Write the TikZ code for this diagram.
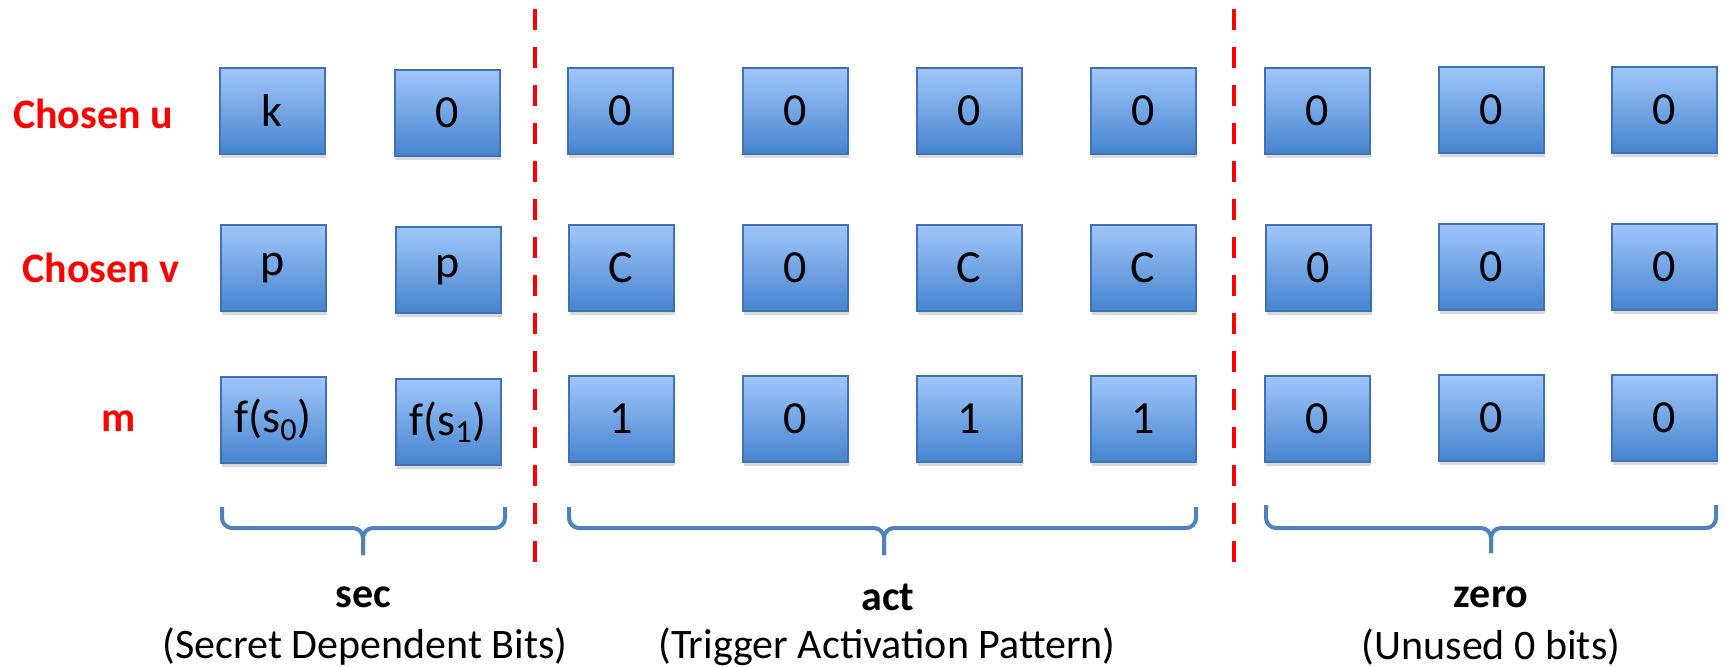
\documentclass[tikz,border=0pt]{standalone}
\usepackage{fontspec}
\setmainfont{Carlito}
\usepackage{xcolor}
\usepackage{tikz}
\usetikzlibrary{shadows}

\definecolor{celltop}{RGB}{160,198,250}
\definecolor{cellbottom}{RGB}{70,132,207}
\definecolor{cellborder}{RGB}{64,113,178}
\definecolor{bracecolor}{RGB}{79,129,189}

\begin{document}
\begin{tikzpicture}[x=0.5pt,y=-0.5pt]
				\tikzstyle{common} = [font=\fontsize{21}{25}\selectfont, inner sep=0pt]
				\tikzstyle{cell} = [rectangle, common, font=\fontsize{23}{27}\selectfont, draw=cellborder, line width=1pt, top color=celltop, bottom color=cellbottom, minimum width=52.5pt, minimum height=43pt, drop shadow={shadow xshift=0.5pt, shadow yshift=-2pt, opacity=0.3}]
				\tikzstyle{rowname} = [common, text=red, font=\fontsize{21}{25}\selectfont\bfseries]
				\tikzstyle{groupname} = [common, font=\fontsize{21}{25}\selectfont\bfseries]
				\tikzstyle{groupnote} = [common]
				\tikzstyle{divider} = [draw=red, line width=2.3pt, dash pattern=on 10.5pt off 8.5pt]
				\tikzstyle{curly} = [draw=bracecolor, line width=2pt, rounded corners=5pt]
				\useasboundingbox (0,0) rectangle (1727,666);

				\node[rowname] (rowu) at (93,114) {Chosen u};
				\node[rowname] (rowv) at (101,268) {Chosen v};
				\node[rowname] (rowm) at (119,421) {m};

				\node[cell] (u1) at (272,111) {k};
				\node[cell] (u2) at (447,113) {0};
				\node[cell] (u3) at (620,111) {0};
				\node[cell] (u4) at (795,111) {0};
				\node[cell] (u5) at (969,111) {0};
				\node[cell] (u6) at (1143,111) {0};
				\node[cell] (u7) at (1317,111) {0};
				\node[cell] (u8) at (1491,110) {0};
				\node[cell] (u9) at (1664,110) {0};

				\node[cell] (v1) at (273,268) {p};
				\node[cell] (v2) at (448,270) {p};
				\node[cell] (v3) at (621,268) {C};
				\node[cell] (v4) at (795,268) {0};
				\node[cell] (v5) at (969,268) {C};
				\node[cell] (v6) at (1143,268) {C};
				\node[cell] (v7) at (1318,268) {0};
				\node[cell] (v8) at (1491,267) {0};
				\node[cell] (v9) at (1664,267) {0};

				\node[cell] (m1) at (273,420) {f(s\textsubscript{0})};
				\node[cell] (m2) at (448,422) {f(s\textsubscript{1})};
				\node[cell] (m3) at (621,419) {1};
				\node[cell] (m4) at (795,419) {0};
				\node[cell] (m5) at (969,419) {1};
				\node[cell] (m6) at (1143,419) {1};
				\node[cell] (m7) at (1317,419) {0};
				\node[cell] (m8) at (1491,418) {0};
				\node[cell] (m9) at (1664,418) {0};

				\draw[divider] (535,9) -- (535,578);
				\draw[divider] (1234,9) -- (1234,578);

				\draw[curly] (222,507) |- (363,528) -- (363,555);
				\draw[curly] (505,507) |- (363,528) -- (363,555);
				\draw[curly] (569,507) |- (884,528) -- (884,555);
				\draw[curly] (1196,507) |- (884,528) -- (884,555);
				\draw[curly] (1266,505) |- (1491,528) -- (1491,553);
				\draw[curly] (1716,505) |- (1491,528) -- (1491,553);

				\node[groupname] (secname) at (363,597) {sec};
				\node[groupnote] (secnote) at (365,647) {(Secret Dependent Bits)};
				\node[groupname] (actname) at (888,597) {act};
				\node[groupnote] (actnote) at (887,647) {(Trigger Activation Pattern)};
				\node[groupname] (zeroname) at (1491,597) {zero};
				\node[groupnote] (zeronote) at (1491,647) {(Unused 0 bits)};
\end{tikzpicture}
\end{document}
